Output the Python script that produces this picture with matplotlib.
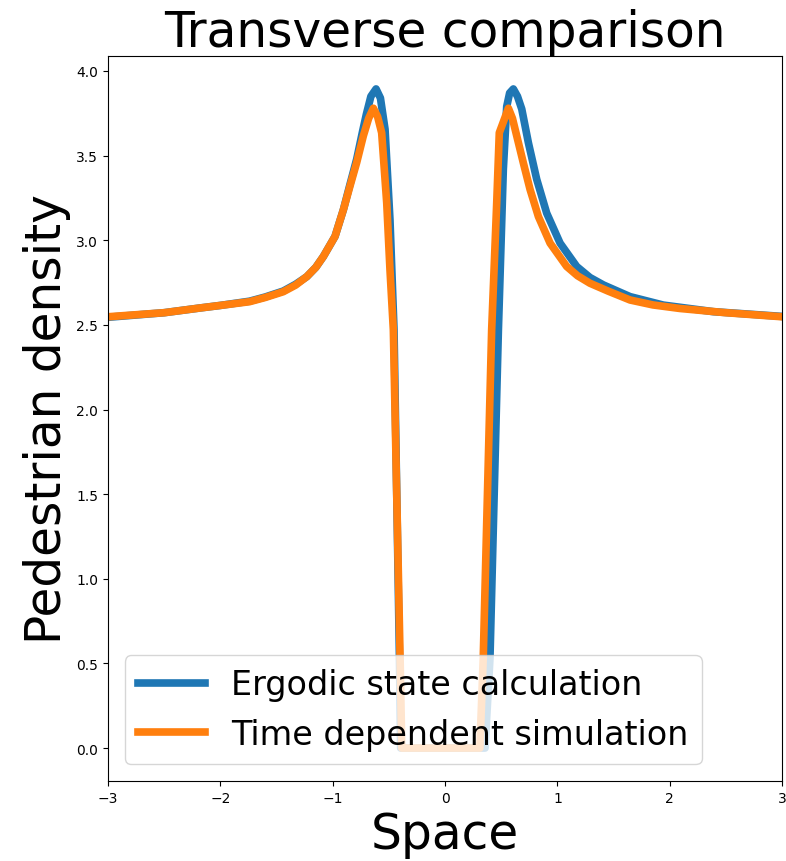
import matplotlib.pyplot as plt

# Ergodic state calculation
x_ergodic = [-3.0, -2.5, -2.18, -2.0, -1.74, -1.6, -1.44, -1.33, -1.23, -1.15, -1.083,
             -0.979, -0.905, -0.846, -0.786, -0.735, -0.70, -0.66, -0.614, -0.575,
             -0.534, -0.49, -0.454, -0.405, -0.395,
             0.356, 0.40, 0.475, 0.519, 0.549, 0.575, 0.608, 0.645, 0.683, 0.742,
             0.816, 0.905, 1.024, 1.172, 1.29, 1.41, 1.647, 1.943, 2.39, 3.0]
y_ergodic = [2.545, 2.572, 2.60, 2.615, 2.64, 2.665, 2.70, 2.74, 2.785, 2.84, 2.904,
             3.023, 3.18, 3.33, 3.48, 3.64, 3.745, 3.85, 3.894, 3.84,
             3.656, 3.12, 2.47, 0.5, 0.0,
             0.0, 0.53, 2.47, 3.42, 3.79, 3.87, 3.894, 3.85, 3.775, 3.576,
             3.36, 3.16, 2.983, 2.845, 2.78, 2.736, 2.667, 2.617, 2.578, 2.55]

# Time dependent simulation
x_sim = [-3.0, -2.5, -2.18, -2.0, -1.74, -1.6, -1.44, -1.33, -1.231, -1.15, -1.083,
         -0.979, -0.905, -0.846, -0.786, -0.727, -0.68, -0.638, -0.60, -0.564,
         -0.519, -0.49, -0.46, -0.40, -0.385,
         0.31, 0.34, 0.415, 0.46, 0.483, 0.525, 0.564, 0.60, 0.638, 0.697,
         0.757, 0.831, 0.935, 1.083, 1.18, 1.29, 1.45, 1.647, 1.85, 2.09, 2.5, 3.0]
y_sim = [2.548, 2.572, 2.60, 2.615, 2.637, 2.662, 2.696, 2.735, 2.785, 2.84, 2.904,
         3.023, 3.18, 3.32, 3.46, 3.617, 3.72, 3.78, 3.73, 3.635,
         3.22, 2.825, 2.47, 0.53, 0.0,
         0.0, 0.53, 2.47, 3.22, 3.635, 3.71, 3.78, 3.72, 3.617, 3.457,
         3.30, 3.14, 2.983, 2.845, 2.79, 2.746, 2.70, 2.647, 2.618, 2.597, 2.572, 2.548]

fig = plt.figure(figsize=(7.86, 8.62), dpi=100)
ax = fig.add_axes([0.1374, 0.0928, 0.8576, 0.8411])

ax.plot(x_ergodic, y_ergodic, linewidth=5.5, label='Ergodic state calculation')
ax.plot(x_sim, y_sim, linewidth=5.5, label='Time dependent simulation')

ax.set_xlim(-3, 3)
ax.set_title('Transverse comparison', fontsize=35)
ax.set_xlabel('Space', fontsize=35)
ax.set_ylabel('Pedestrian density', fontsize=35)
ax.legend(loc='lower left', fontsize=24)

plt.savefig('out.png', dpi=100)
